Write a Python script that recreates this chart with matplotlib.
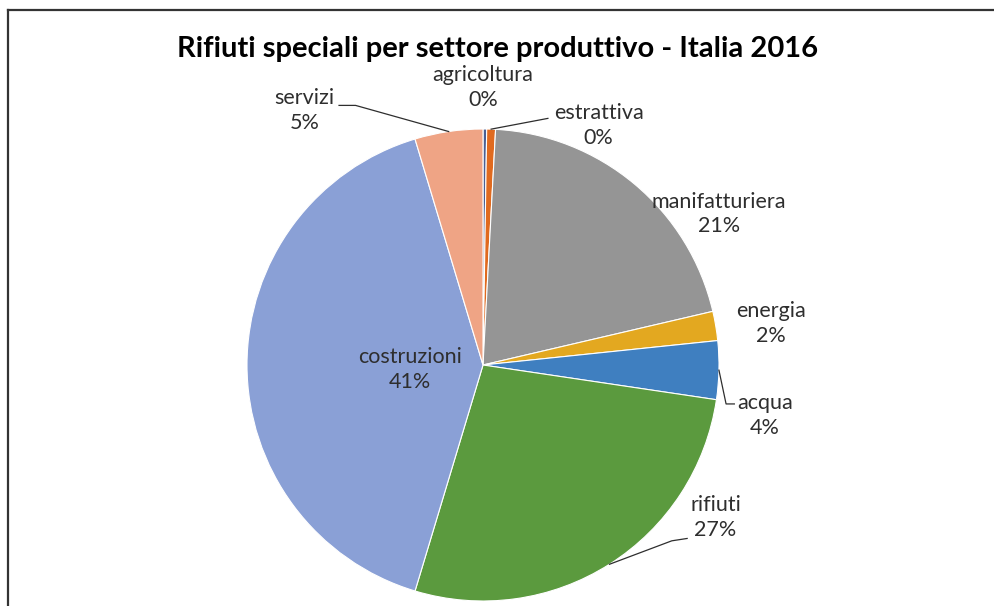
import numpy as np
import matplotlib
matplotlib.use("Agg")
import matplotlib.pyplot as plt
from matplotlib.lines import Line2D

plt.rcParams["font.family"] = ["Lato", "DejaVu Sans"]

# data
sectors = ["agricoltura", "estrattiva", "manifatturiera", "energia",
           "acqua", "rifiuti", "costruzioni", "servizi"]
shares = [0.25, 0.6, 20.5, 2.0, 4.0, 27.3, 40.7, 4.65]
pct_labels = ["0%", "0%", "21%", "2%", "4%", "27%", "41%", "5%"]
colors = ["#4a5f93", "#e06a1f", "#959595", "#e3a820",
          "#3f7fc0", "#5b9a3e", "#8aa0d6", "#efa485"]

# label positions in pie-radius units
label_pos = {
    "agricoltura": (0.0, 1.175),
    "estrattiva": (0.49, 1.015),
    "manifatturiera": (1.0, 0.64),
    "energia": (1.22, 0.175),
    "acqua": (1.195, -0.215),
    "rifiuti": (0.985, -0.645),
    "costruzioni": (-0.31, -0.02),
    "servizi": (-0.755, 1.08),
}
# leader line bends (after the wedge anchor)
leaders = {
    "servizi": [(-0.54, 1.10), (-0.61, 1.10)],
    "estrattiva": [(0.275, 1.045)],
    "acqua": [(1.03, -0.165), (1.065, -0.165)],
    "rifiuti": [(0.80, -0.745), (0.865, -0.735)],
}

fig = plt.figure(figsize=(9.95, 6.06), dpi=100)
W, H = 995, 606
cx, cy, r = 483, 365, 236
ax = fig.add_axes([(cx - r) / W, (H - cy - r) / H, 2 * r / W, 2 * r / H])

wedges, _ = ax.pie(shares, colors=colors, startangle=90, counterclock=False,
                   radius=1, wedgeprops=dict(edgecolor="white", linewidth=0.8))
ax.set_xlim(-1, 1)
ax.set_ylim(-1, 1)
ax.set_aspect("equal")
ax.axis("off")

for w, name, pct in zip(wedges, sectors, pct_labels):
    x, y = label_pos[name]
    ax.text(x, y, f"{name}\n{pct}", ha="center", va="center", fontsize=15.5,
            color="#2e2e2e", linespacing=1.3, clip_on=False)
    if name in leaders:
        mid = np.deg2rad((w.theta1 + w.theta2) / 2)
        pts = [(np.cos(mid), np.sin(mid))] + leaders[name]
        xs, ys = zip(*pts)
        ax.plot(xs, ys, color="#2e2e2e", lw=0.9, clip_on=False)

fig.text(0.5, 1 - 49 / H, "Rifiuti speciali per settore produttivo - Italia 2016",
         ha="center", va="center", fontsize=21, fontweight="bold", color="black")

# chart frame (top and left edges visible)
fig.add_artist(Line2D([8 / W, 1.0], [1 - 10 / H, 1 - 10 / H],
                      transform=fig.transFigure, color="#333333", lw=1.6))
fig.add_artist(Line2D([8 / W, 8 / W], [0, 1 - 10 / H],
                      transform=fig.transFigure, color="#333333", lw=1.6))

fig.savefig("out.png", dpi=100)
